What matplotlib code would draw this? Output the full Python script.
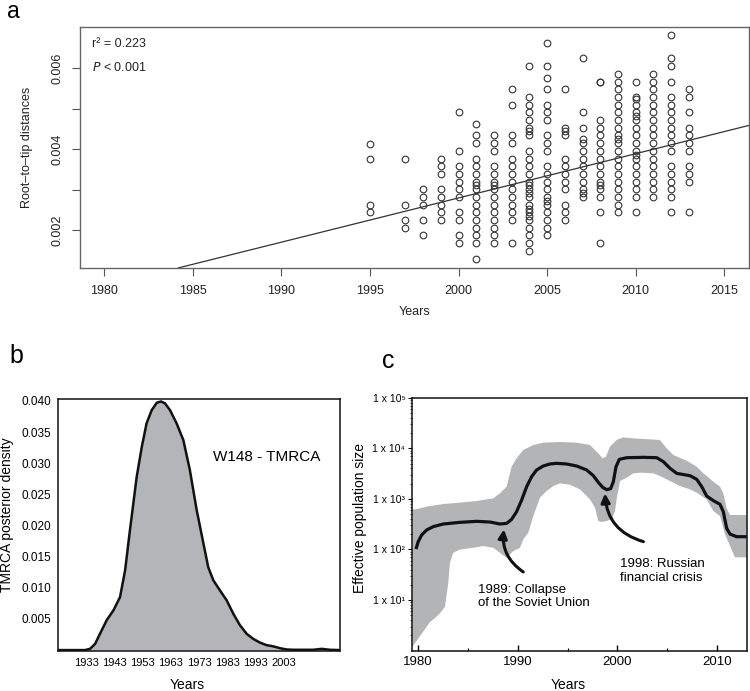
import numpy as np
import matplotlib
matplotlib.use("Agg")
import matplotlib.pyplot as plt
from matplotlib import font_manager
from matplotlib.ticker import FixedLocator, NullFormatter, LogLocator

plt.rcParams['font.family'] = ['Liberation Sans', 'DejaVu Sans']

# ---- panel a: root-to-tip distances (x 1e-3) per sampling year ----
rtt_years = [1995, 1997, 1998, 1999, 2000, 2001, 2002, 2003, 2004,
             2005, 2006, 2007, 2008, 2009, 2010, 2011, 2012, 2013]
rtt_values = [
    [4.140, 3.770, 2.634, 2.444],
    [3.770, 2.634, 2.255, 2.066],
    [3.012, 2.823, 2.634, 2.255, 1.877],
    [3.770, 3.580, 3.391, 3.012, 2.823, 2.634, 2.444, 2.255],
    [4.914, 3.963, 3.580, 3.391, 3.202, 3.012, 2.823, 2.444, 2.255, 1.877, 1.679],
    [4.634, 4.346, 4.156, 3.770, 3.580, 3.391, 3.202, 3.111, 3.012, 2.823, 2.634,
     2.444, 2.255, 2.066, 1.877, 1.679, 1.292],
    [4.346, 4.156, 3.963, 3.580, 3.391, 3.202, 3.111, 3.012, 2.823, 2.634, 2.444,
     2.255, 2.066, 1.877, 1.679],
    [5.481, 5.103, 4.346, 4.156, 3.770, 3.580, 3.391, 3.202, 3.012, 2.823, 2.634,
     2.444, 2.255, 1.679],
    [6.049, 5.292, 5.103, 4.914, 4.724, 4.535, 4.444, 4.346, 3.963, 3.770, 3.580,
     3.391, 3.202, 3.111, 3.012, 2.922, 2.823, 2.634, 2.535, 2.444, 2.346, 2.255,
     2.066, 1.877, 1.679, 1.490],
    [6.625, 6.049, 5.761, 5.481, 5.103, 4.914, 4.724, 4.346, 4.156, 3.963, 3.580,
     3.391, 3.202, 3.012, 2.823, 2.733, 2.634, 2.444, 2.255, 2.066, 1.877],
    [5.481, 4.535, 4.444, 4.346, 3.770, 3.580, 3.391, 3.202, 3.012, 2.634, 2.444, 2.255],
    [6.247, 4.914, 4.535, 4.255, 4.156, 3.963, 3.770, 3.580, 3.391, 3.202, 3.012,
     2.922, 2.823],
    [5.671, 5.671, 4.724, 4.535, 4.346, 4.156, 3.963, 3.770, 3.580, 3.391, 3.202,
     3.111, 3.012, 2.823, 2.444, 1.679],
    [5.860, 5.671, 5.481, 5.292, 5.103, 4.914, 4.724, 4.535, 4.346, 4.255, 4.156,
     3.963, 3.770, 3.580, 3.391, 3.202, 3.012, 2.823, 2.634, 2.444],
    [5.671, 5.292, 5.250, 5.103, 4.914, 4.815, 4.724, 4.535, 4.346, 4.156, 3.963,
     3.868, 3.770, 3.580, 3.391, 3.202, 3.012, 2.823, 2.444],
    [5.860, 5.671, 5.481, 5.292, 5.103, 4.914, 4.724, 4.535, 4.346, 4.156, 3.963,
     3.770, 3.580, 3.391, 3.202, 3.012, 2.823],
    [6.815, 6.247, 6.049, 5.671, 5.292, 5.103, 4.914, 4.724, 4.535, 4.346, 4.156,
     3.963, 3.580, 3.391, 3.202, 3.012, 2.823, 2.444],
    [5.481, 5.292, 4.914, 4.535, 4.346, 4.156, 3.963, 3.580, 3.391, 3.202, 2.444],
]
fit_point = (1995.0, 0.002253)
fit_slope = 1.092e-4

# ---- panel b: TMRCA posterior density ----
tmrca_year = [1923.2, 1932.6, 1934.4, 1936.2, 1937.9, 1940.3, 1942.7, 1945.0, 1946.8,
              1948.5, 1949.7, 1950.9, 1952.7, 1954.4, 1956.2, 1958.0, 1959.5, 1960.9,
              1962.7, 1965.0, 1967.4, 1969.7, 1972.1, 1974.5, 1976.2, 1978.0, 1980.3,
              1982.7, 1985.1, 1987.4, 1989.8, 1992.1, 1994.5, 1996.8, 1999.2, 2001.6,
              2003.9, 2006.3, 2008.6, 2013.3, 2016.3, 2019.2, 2022.8]
tmrca_density = [0.0, 0.0, 0.0002, 0.0010, 0.0026, 0.0048, 0.0064, 0.0085, 0.0128,
                 0.0192, 0.0235, 0.0278, 0.0326, 0.0364, 0.0385, 0.0397, 0.0399, 0.0396,
                 0.0385, 0.0364, 0.0337, 0.0289, 0.0225, 0.0171, 0.0133, 0.0112, 0.0096,
                 0.0080, 0.0058, 0.0040, 0.0026, 0.0018, 0.0012, 0.0008, 0.0006, 0.0003,
                 0.0001, 0.00005, 0.00005, 0.00005, 0.0002, 0.00005, 0.0]
tmrca_ticks = [1933, 1943, 1953, 1963, 1973, 1983, 1993, 2003]

# ---- panel c: skyline effective population size ----
ne_year = [1979.77, 1980.0, 1980.34, 1980.84, 1981.51, 1982.52, 1984.19, 1985.86, 1987.2,
           1988.21, 1988.88, 1989.38, 1989.88, 1990.39, 1990.89, 1991.39, 1991.89, 1992.56,
           1993.23, 1993.9, 1994.91, 1995.91, 1996.92, 1997.59, 1998.09, 1998.53, 1998.93,
           1999.33, 1999.6, 1999.87, 2000.2, 2000.94, 2002.62, 2003.96, 2004.63, 2005.3,
           2005.97, 2007.31, 2007.98, 2008.48, 2008.98, 2009.65, 2010.32, 2010.65, 2010.99,
           2011.32, 2011.99, 2013.0]
ne_median = [102, 143, 193, 243, 283, 319, 344, 360, 349, 319, 328, 394, 558, 950, 1743,
             2748, 3724, 4467, 4890, 5040, 4890, 4467, 3724, 2877, 2124, 1690, 1521, 1592,
             2188, 4325, 6040, 6515, 6620, 6515, 5430, 4010, 3190, 2870, 2432, 1743, 1140,
             923, 780, 558, 261, 202, 179, 179]
upper_year = [1979.43, 1979.77, 1980.84, 1982.52, 1984.19, 1985.86, 1987.54, 1988.21, 1988.88,
              1989.38, 1989.88, 1990.55, 1991.56, 1992.56, 1994.24, 1995.91, 1997.25, 1998.09,
              1998.53, 1998.86, 1999.26, 1999.93, 2000.6, 2001.61, 2003.28, 2004.29, 2004.96,
              2005.63, 2006.97, 2007.98, 2008.65, 2009.65, 2010.32, 2010.65, 2010.99, 2011.32,
              2013.0]
ne_upper = [621, 621, 702, 792, 842, 908, 1026, 1286, 1743, 4325, 6325, 9250, 11610, 12900,
            13300, 12900, 11610, 7940, 6325, 6820, 10760, 14590, 16440, 15710, 15030, 14560,
            9980, 7360, 5690, 4325, 3190, 2188, 1743, 1286, 649, 480, 480]
lower_year = [1979.43, 1979.67, 1980.51, 1981.18, 1981.68, 1982.18, 1982.68, 1983.02, 1983.18,
              1983.52, 1984.19, 1985.53, 1986.54, 1987.54, 1988.21, 1988.88, 1989.55, 1990.22,
              1990.55, 1991.06, 1991.56, 1992.23, 1992.9, 1993.57, 1994.24, 1995.24, 1996.25,
              1997.25, 1997.76, 1998.09, 1998.43, 1998.93, 1999.43, 1999.77, 1999.93, 2000.27,
              2000.94, 2001.61, 2002.28, 2003.62, 2004.29, 2005.3, 2006.3, 2007.31, 2007.98,
              2008.98, 2009.65, 2010.32, 2010.82, 2011.32, 2011.82, 2013.0]
ne_lower = [1.2, 1.4, 2.4, 3.7, 4.4, 5.5, 7.4, 22, 55, 86, 100, 108, 117, 108, 86, 69, 93,
            108, 158, 215, 458, 1057, 1430, 1795, 2027, 1905, 1542, 980, 670, 366, 349, 366,
            394, 575, 980, 2254, 2624, 3200, 3296, 3200, 2831, 2254, 1795, 1542, 1327, 980,
            575, 458, 199, 119, 70, 70]
ne_yticks = [1e1, 1e2, 1e3, 1e4, 1e5]
ne_yticklabels = ['1 x 10\u00b9', '1 x 10\u00b2', '1 x 10\u00b3', '1 x 10\u2074', '1 x 10\u2075']

# narrow face for panel b ticks if one is around
installed = {f.name for f in font_manager.fontManager.ttflist}
if 'Liberation Sans Narrow' in installed:
    narrow, bx_size, by_size = ['Liberation Sans Narrow', 'DejaVu Sans'], 9.5, 10
else:
    narrow, bx_size, by_size = ['Liberation Sans', 'DejaVu Sans'], 8, 8.5


def center_labels(ax):
    ax.xaxis.label.set_va('center')
    ax.yaxis.label.set_va('center')


fig = plt.figure(figsize=(7.5, 6.91), dpi=100)

# panel a
ax_a = fig.add_axes([0.1067, 0.6122, 0.892, 0.3488])
for yr, vals in zip(rtt_years, rtt_values):
    v = np.array(vals) * 1e-3
    ax_a.plot(np.full(len(v), yr), v, 'o', ms=4.8, mfc='none', mec='#333333', mew=0.8)
ax_a.axline(fit_point, slope=fit_slope, color='#333333', lw=0.9)
ax_a.set_xlim(1978.63, 2016.4)
ax_a.set_ylim(0.00107, 0.00702)
ax_a.set_xticks([1980, 1985, 1990, 1995, 2000, 2005, 2010, 2015])
ax_a.set_yticks([0.002, 0.003, 0.004, 0.005, 0.006])
ax_a.set_yticklabels(['0.002', '', '0.004', '', '0.006'], rotation=90, va='center')
ax_a.tick_params(direction='out', length=6, width=0.8, color='#555555',
                 labelsize=9, pad=6, labelcolor='#222222')
for s in ax_a.spines.values():
    s.set_color('#666666')
    s.set_linewidth(1.0)
ax_a.set_xlabel('Years', fontsize=9, color='#222222')
ax_a.set_ylabel('Root\u2013to\u2013tip distances', fontsize=9, color='#222222')
center_labels(ax_a)
ax_a.xaxis.set_label_coords(0.50, -0.183)
ax_a.yaxis.set_label_coords(-0.079, 0.5)
ax_a.text(0.018, 0.929, 'r\u00b2 = 0.223', transform=ax_a.transAxes, fontsize=9,
          va='center', color='#222222')
ax_a.text(0.018, 0.83, '$P$ < 0.001', transform=ax_a.transAxes, fontsize=9,
          va='center', color='#222222')

# panel b
ax_b = fig.add_axes([0.0778, 0.0583, 0.3756, 0.3643])
ax_b.fill_between(tmrca_year, tmrca_density, 0, color='#b4b5b8', lw=0)
ax_b.plot(tmrca_year, tmrca_density, color='#111111', lw=1.8)
ax_b.set_xlim(1923.2, 2022.8)
ax_b.set_ylim(-0.0001, 0.0403)
ax_b.set_xticks(tmrca_ticks)
ax_b.set_xticklabels([str(t) for t in tmrca_ticks], family=narrow, fontsize=bx_size)
yt = [0.005, 0.010, 0.015, 0.020, 0.025, 0.030, 0.035, 0.040]
ax_b.set_yticks(yt)
ax_b.set_yticklabels(['%.3f' % t for t in yt], family=narrow, fontsize=by_size)
ax_b.tick_params(length=0, pad=5)
for s in ax_b.spines.values():
    s.set_color('#111111')
    s.set_linewidth(1.1)
ax_b.set_xlabel('Years', fontsize=10)
ax_b.set_ylabel('TMRCA posterior density', fontsize=10)
center_labels(ax_b)
ax_b.xaxis.set_label_coords(0.457, -0.136)
ax_b.yaxis.set_label_coords(-0.182, 0.54)
ax_b.text(1977.9, 0.0310, 'W148 - TMRCA', fontsize=11, ha='left', va='center')

# panel c
ax_c = fig.add_axes([0.5497, 0.0583, 0.4459, 0.3662])
band_x = np.concatenate([upper_year, lower_year[::-1]])
band_y = np.concatenate([ne_upper, ne_lower[::-1]])
ax_c.fill(band_x, band_y, color='#b3b4b6', lw=0)
ax_c.plot(ne_year, ne_median, color='#111111', lw=2.3, solid_capstyle='butt')
ax_c.set_yscale('log')
ax_c.set_xlim(1979.4, 2013.0)
ax_c.set_ylim(1, 1e5)
ax_c.set_xticks([1980, 1990, 2000, 2010])
ax_c.xaxis.set_minor_locator(FixedLocator([1985, 1995, 2005]))
ax_c.set_yticks(ne_yticks)
ax_c.set_yticklabels(ne_yticklabels)
ax_c.yaxis.set_minor_locator(LogLocator(base=10, subs=np.arange(2, 10)))
ax_c.yaxis.set_minor_formatter(NullFormatter())
ax_c.tick_params(axis='x', which='major', direction='in', length=4, width=1.0,
                 labelsize=9.5, pad=4)
ax_c.tick_params(axis='x', which='minor', direction='in', length=2, width=0.8)
ax_c.tick_params(axis='y', which='major', direction='out', length=3, width=0.8,
                 labelsize=7.5, pad=2)
ax_c.tick_params(axis='y', which='minor', direction='out', length=1.5, width=0.5)
for s in ax_c.spines.values():
    s.set_color('#111111')
    s.set_linewidth(1.1)
ax_c.set_xlabel('Years', fontsize=10)
ax_c.set_ylabel('Effective population size', fontsize=10)
center_labels(ax_c)
ax_c.xaxis.set_label_coords(0.466, -0.136)
ax_c.yaxis.set_label_coords(-0.156, 0.525)

arrow_kw = dict(arrowstyle='-|>', lw=2.2, color='#111111', mutation_scale=13,
                shrinkA=0, shrinkB=0)
ax_c.annotate('', xy=(1988.61, 250), xytext=(1990.55, 36),
              arrowprops=dict(connectionstyle='arc3,rad=-0.3', **arrow_kw))
ax_c.annotate('', xy=(1998.76, 1286), xytext=(2002.62, 143),
              arrowprops=dict(connectionstyle='arc3,rad=-0.35', **arrow_kw))
ax_c.text(1986.0, 21, '1989: Collapse\nof the Soviet Union', fontsize=9.5,
          ha='left', va='top', linespacing=1.15)
ax_c.text(2000.27, 67, '1998: Russian\nfinancial crisis', fontsize=9.5,
          ha='left', va='top', linespacing=1.15)

# panel letters
fig.text(7 / 750, 1 - 18 / 691, 'a', fontsize=16.5, ha='left', va='baseline')
fig.text(9 / 750, 1 - 363 / 691, 'b', fontsize=18, ha='left', va='baseline')
fig.text(382 / 750, 1 - 368 / 691, 'c', fontsize=18, ha='left', va='baseline')

fig.savefig('out.png', dpi=100)
